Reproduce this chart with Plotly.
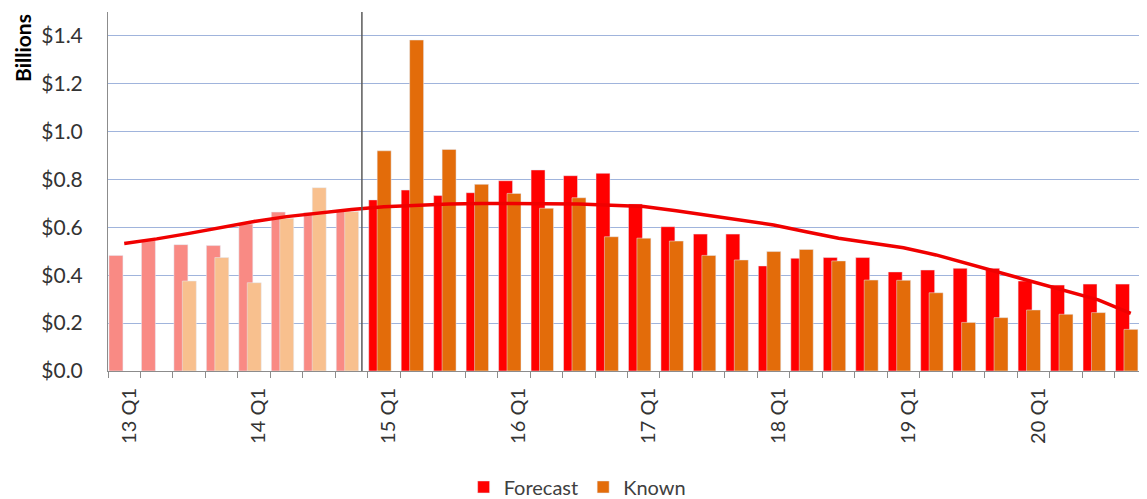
import plotly.graph_objects as go

quarters = [f"{y} Q{q}" for y in range(13, 21) for q in range(1, 5)]
forecast = [0.483, 0.547, 0.528, 0.524, 0.614, 0.664, 0.662, 0.673,
            0.715, 0.756, 0.733, 0.745, 0.795, 0.840, 0.816, 0.826,
            0.698, 0.603, 0.572, 0.572, 0.439, 0.471, 0.474, 0.474,
            0.414, 0.422, 0.429, 0.429, 0.376, 0.359, 0.363, 0.363]
known = [None, None, 0.376, 0.474, 0.369, 0.638, 0.766, 0.666,
         0.920, 1.383, 0.926, 0.780, 0.742, 0.680, 0.724, 0.561,
         0.555, 0.543, 0.483, 0.464, 0.499, 0.508, 0.460, 0.380,
         0.379, 0.327, 0.203, 0.223, 0.255, 0.237, 0.244, 0.174]
trend = [0.533, 0.552, 0.575, 0.600, 0.625, 0.645, 0.660, 0.675,
         0.686, 0.693, 0.698, 0.700, 0.700, 0.700, 0.698, 0.693,
         0.687, 0.670, 0.650, 0.631, 0.610, 0.582, 0.555, 0.535,
         0.515, 0.485, 0.447, 0.408, 0.370, 0.332, 0.297, 0.241]
y_ticks = [0.0, 0.2, 0.4, 0.6, 0.8, 1.0, 1.2, 1.4]
label_idx = [0, 4, 8, 12, 16, 20, 24, 28]
split = 8  # first quarter of current period (15 Q1)

xs = list(range(len(quarters)))
FONT = "Lato"

fig = go.Figure()
common = dict(width=0.43)
fig.add_trace(go.Bar(x=xs[:split], y=forecast[:split], offset=-0.47, marker_color="#F98A84",
                     showlegend=False, **common))
fig.add_trace(go.Bar(x=xs[:split], y=known[:split], offset=-0.21, marker_color="#F8C08E",
                     showlegend=False, **common))
fig.add_trace(go.Bar(x=xs[split:], y=forecast[split:], offset=-0.47, marker_color="#FF0000",
                     name="Forecast", **common))
fig.add_trace(go.Bar(x=xs[split:], y=known[split:], offset=-0.21, marker_color="#E36C0A",
                     name="Known", **common))
fig.add_trace(go.Scatter(x=xs, y=trend, mode="lines", line=dict(color="#F00000", width=3.5),
                         showlegend=False))

fig.add_shape(type="line", xref="x", yref="paper", x0=7.32, x1=7.32, y0=0, y1=1,
              line=dict(color="#5a5a5a", width=1.5))

# page body adds an 8px offset, so the figure is 8px smaller than the window
fig.update_layout(
    width=1139, height=491,
    margin=dict(l=100, r=0, t=4, b=128, autoexpand=False),
    barmode="overlay",
    plot_bgcolor="white", paper_bgcolor="white",
    font=dict(family=FONT, size=20, color="#333333"),
    legend=dict(orientation="h", x=0.452, xanchor="center", y=-0.323, yanchor="middle",
                font=dict(size=20, color="#404040"), traceorder="normal"),
    annotations=[dict(text="<b>Billions</b>", x=0, xref="paper", yref="paper",
                      xshift=-86, y=1.0, yanchor="top", xanchor="center", textangle=-90,
                      showarrow=False, font=dict(size=21, color="#000000"))],
)
fig.update_xaxes(
    range=[-0.5, 31.5], tickmode="array", tickvals=[i + 0.15 for i in label_idx],
    ticktext=[quarters[i] for i in label_idx], tickangle=-90, ticks="",
    showline=True, linecolor="#8c8c8c", linewidth=1, showgrid=False, zeroline=False,
    minor=dict(ticks="outside", tick0=-0.5, dtick=1, ticklen=6, tickcolor="#8c8c8c",
               showgrid=False),
    ticklabelstandoff=8,
    tickfont=dict(size=20, color="#333333"),
)
fig.update_yaxes(
    range=[0, 1.5], tickmode="array", tickvals=y_ticks,
    ticktext=[f"${v:.1f}" for v in y_ticks],
    showgrid=True, gridcolor="#A0B4DC", gridwidth=1, zeroline=False,
    showline=True, linecolor="#8c8c8c", linewidth=1, ticks="",
    ticklabelstandoff=20,
    tickfont=dict(size=21, color="#333333"),
)

fig.write_html("out.html")
